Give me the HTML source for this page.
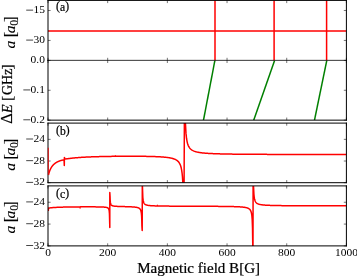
<!DOCTYPE html><html><head><meta charset="utf-8"><style>html,body{margin:0;padding:0;background:#fff;overflow:hidden;}svg{display:block;}text{font-family:"Liberation Serif",serif;fill:#000;stroke:#000;stroke-width:0px;}.L{stroke-width:0.22px;}.M{stroke-width:0.1px;}svg{-webkit-font-smoothing:antialiased;}</style></head><body>
<svg style="will-change:transform" width="357" height="277" viewBox="0 0 357 277">
<rect width="357" height="277" fill="#fff"/>
<clipPath id="ca"><rect x="48.0" y="0.5" width="298.40" height="59.90"/></clipPath>
<clipPath id="ce"><rect x="48.0" y="60.4" width="298.40" height="59.75"/></clipPath>
<clipPath id="cb"><rect x="48.0" y="123.1" width="298.40" height="59.60"/></clipPath>
<clipPath id="cc"><rect x="48.0" y="185.9" width="298.40" height="60.00"/></clipPath>
<g clip-path="url(#ca)" stroke="#ff0000" stroke-width="1.5" fill="none">
<line x1="48.0" y1="31.1" x2="346.4" y2="31.1"/>
<line x1="215.0" y1="-0.5" x2="215.0" y2="61.4"/>
<line x1="274.1" y1="-0.5" x2="274.1" y2="61.4"/>
<line x1="326.6" y1="-0.5" x2="326.6" y2="61.4"/>
</g>
<g clip-path="url(#ce)" stroke="#008000" stroke-width="1.5" fill="none">
<line x1="214.9" y1="60.4" x2="203.5" y2="120.15"/>
<line x1="274.6" y1="60.4" x2="253.7" y2="120.15"/>
<line x1="326.8" y1="60.4" x2="314.5" y2="120.15"/>
</g>
<g clip-path="url(#cb)" stroke="#ff0000" stroke-width="1.5" fill="none" stroke-linejoin="round">
<path d="M48.4,175 L48.50,174.74 L48.63,174.23 L48.76,173.73 L48.89,173.27 L49.02,172.82 L49.16,172.40 L49.29,171.99 L49.42,171.61 L49.55,171.24 L49.68,170.88 L49.81,170.54 L49.94,170.22 L50.07,169.91 L50.21,169.61 L50.34,169.32 L50.47,169.04 L50.60,168.78 L50.73,168.52 L50.86,168.27 L50.99,168.03 L51.12,167.80 L51.25,167.58 L51.39,167.36 L51.52,167.16 L51.65,166.95 L51.78,166.76 L51.91,166.57 L52.04,166.39 L52.17,166.21 L52.30,166.04 L52.44,165.87 L52.57,165.71 L52.70,165.55 L52.83,165.40 L52.96,165.25 L53.09,165.11 L53.22,164.97 L53.35,164.83 L53.49,164.70 L53.62,164.57 L53.75,164.44 L53.88,164.32 L54.01,164.20 L54.14,164.08 L54.27,163.97 L54.40,163.86 L54.53,163.75 L54.67,163.64 L54.80,163.54 L54.93,163.44 L55.06,163.34 L55.19,163.25 L55.32,163.15 L55.45,163.06 L55.58,162.97 L55.72,162.88 L55.85,162.80 L55.98,162.71 L56.11,162.63 L56.24,162.55 L56.37,162.47 L56.50,162.39 L56.63,162.32 L56.76,162.24 L56.90,162.17 L57.03,162.10 L57.16,162.03 L57.29,161.96 L57.42,161.89 L57.55,161.83 L57.68,161.76 L57.81,161.70 L57.95,161.64 L58.08,161.58 L58.21,161.52 L58.34,161.46 L58.47,161.40 L58.60,161.35 L58.73,161.29 L58.86,161.24 L58.99,161.19 L59.13,161.13 L59.26,161.08 L59.39,161.03 L59.52,160.98 L59.65,160.93 L59.78,160.89 L59.91,160.84 L60.04,160.80 L60.18,160.75 L60.31,160.71 L60.44,160.67 L60.57,160.62 L60.70,160.58 L60.83,160.54 L60.96,160.50 L61.09,160.47 L61.23,160.43 L61.36,160.39 L61.49,160.36 L61.62,160.32 L61.75,160.29 L61.88,160.26 L62.01,160.23 L62.14,160.20 L62.27,160.18 L62.41,160.15 L62.54,160.13 L62.67,160.11 L62.80,160.09 L62.93,160.08 L63.06,160.07 L63.19,160.07 L63.32,160.07 L63.46,160.09 L63.59,160.13 L63.72,160.20 L63.85,160.31 L63.98,160.53 L64.11,161.04 L64.3,165.5 L64.4,157.6 L64.59,157.93 L64.99,158.78 L65.39,158.91 L65.79,158.93 L66.19,158.90 L66.59,158.86 L66.99,158.82 L67.39,158.76 L67.78,158.71 L68.18,158.66 L68.58,158.60 L68.98,158.55 L69.38,158.50 L69.78,158.44 L70.18,158.39 L70.58,158.34 L70.98,158.29 L71.38,158.25 L71.78,158.20 L72.18,158.15 L72.58,158.11 L72.98,158.07 L73.38,158.03 L73.78,157.98 L74.18,157.94 L74.58,157.91 L74.98,157.87 L75.38,157.83 L75.78,157.79 L76.18,157.76 L76.57,157.73 L76.97,157.69 L77.37,157.66 L77.77,157.63 L78.17,157.60 L78.57,157.56 L78.97,157.54 L79.37,157.51 L79.77,157.48 L80.17,157.45 L80.57,157.42 L80.97,157.40 L81.37,157.37 L81.77,157.34 L82.17,157.32 L82.57,157.30 L82.97,157.27 L83.37,157.25 L83.77,157.23 L84.17,157.20 L84.57,157.18 L84.96,157.16 L85.36,157.14 L85.76,157.12 L86.16,157.10 L86.56,157.08 L86.96,157.06 L87.36,157.04 L87.76,157.02 L88.16,157.00 L88.56,156.99 L88.96,156.97 L89.36,156.95 L89.76,156.93 L90.16,156.92 L90.56,156.90 L90.96,156.89 L91.36,156.87 L91.76,156.86 L92.16,156.84 L92.56,156.83 L92.96,156.81 L93.36,156.80 L93.75,156.78 L94.15,156.77 L94.55,156.76 L94.95,156.74 L95.35,156.73 L95.75,156.72 L96.15,156.71 L96.55,156.69 L96.95,156.68 L97.35,156.67 L97.75,156.66 L98.15,156.65 L98.55,156.64 L98.95,156.63 L99.35,156.62 L99.75,156.61 L100.15,156.60 L100.55,156.59 L100.95,156.58 L101.35,156.57 L101.75,156.56 L102.14,156.55 L102.54,156.54 L102.94,156.53 L103.34,156.52 L103.74,156.51 L104.14,156.50 L104.54,156.50 L104.94,156.49 L105.34,156.48 L105.74,156.47 L106.14,156.47 L106.54,156.46 L106.94,156.45 L107.34,156.44 L107.74,156.44 L108.14,156.43 L108.54,156.42 L108.94,156.42 L109.34,156.41 L109.74,156.40 L110.14,156.40 L110.54,156.39 L110.93,156.39 L111.33,156.38 L111.73,156.37 L112.13,156.37 L112.53,156.36 L112.93,156.36 L113.33,156.35 L113.73,156.35 L114.13,156.34 L114.53,156.34 L114.93,156.33 L115.33,156.33 L115.73,156.33 L116.13,156.32 L116.53,156.32 L116.93,156.31 L117.33,156.31 L117.73,156.31 L118.13,156.30 L118.53,156.30 L118.93,156.30 L119.32,156.29 L119.72,156.29 L120.12,156.29 L120.52,156.28 L120.92,156.28 L121.32,156.28 L121.72,156.28 L122.12,156.27 L122.52,156.27 L122.92,156.27 L123.32,156.27 L123.72,156.26 L124.12,156.26 L124.52,156.26 L124.92,156.26 L125.32,156.26 L125.72,156.26 L126.12,156.25 L126.52,156.25 L126.92,156.25 L127.32,156.25 L127.71,156.25 L128.11,156.25 L128.51,156.25 L128.91,156.25 L129.31,156.25 L129.71,156.25 L130.11,156.25 L130.51,156.25 L130.91,156.25 L131.31,156.25 L131.71,156.25 L132.11,156.25 L132.51,156.25 L132.91,156.25 L133.31,156.25 L133.71,156.25 L134.11,156.26 L134.51,156.26 L134.91,156.26 L135.31,156.26 L135.71,156.26 L136.11,156.26 L136.50,156.27 L136.90,156.27 L137.30,156.27 L137.70,156.27 L138.10,156.28 L138.50,156.28 L138.90,156.28 L139.30,156.29 L139.70,156.29 L140.10,156.29 L140.50,156.30 L140.90,156.30 L141.30,156.30 L141.70,156.31 L142.10,156.31 L142.50,156.32 L142.90,156.32 L143.30,156.33 L143.70,156.33 L144.10,156.34 L144.50,156.34 L144.89,156.35 L145.29,156.36 L145.69,156.36 L146.09,156.37 L146.49,156.38 L146.89,156.38 L147.29,156.39 L147.69,156.40 L148.09,156.41 L148.49,156.42 L148.89,156.42 L149.29,156.43 L149.69,156.44 L150.09,156.45 L150.49,156.46 L150.89,156.47 L151.29,156.48 L151.69,156.49 L152.09,156.50 L152.49,156.52 L152.89,156.53 L153.29,156.54 L153.68,156.55 L154.08,156.57 L154.48,156.58 L154.88,156.60 L155.28,156.61 L155.68,156.63 L156.08,156.64 L156.48,156.66 L156.88,156.68 L157.28,156.69 L157.68,156.71 L158.08,156.73 L158.48,156.75 L158.88,156.77 L159.28,156.79 L159.68,156.82 L160.08,156.84 L160.48,156.86 L160.88,156.89 L161.28,156.91 L161.68,156.94 L162.07,156.97 L162.47,157.00 L162.87,157.03 L163.27,157.06 L163.67,157.09 L164.07,157.13 L164.47,157.16 L164.87,157.20 L165.27,157.24 L165.67,157.28 L166.07,157.32 L166.47,157.37 L166.87,157.42 L167.27,157.47 L167.67,157.52 L168.07,157.57 L168.47,157.63 L168.87,157.69 L169.27,157.76 L169.67,157.82 L170.07,157.90 L170.47,157.97 L170.86,158.05 L171.26,158.14 L171.66,158.23 L172.06,158.33 L172.46,158.44 L172.86,158.55 L173.26,158.67 L173.66,158.80 L174.06,158.94 L174.46,159.09 L174.86,159.26 L175.26,159.44 L175.66,159.64 L176.06,159.85 L176.46,160.09 L176.86,160.36 L177.26,160.66 L177.66,160.99 L178.06,161.37 L178.46,161.80 L178.86,162.29 L179.25,162.87 L179.65,163.54 L180.05,164.34 L180.45,165.32 L180.85,166.52 L181.25,168.05 L181.65,170.05 L182.05,172.79 L182.45,176.77 L182.85,183.05 L183.25,185.70 L183.65,185.70 L184.05,185.70 L184.08,185.7 L184.38,120.1 L184.38,120.10 L184.92,120.10 L185.46,123.87 L186.00,133.40 L186.54,138.47 L187.09,141.62 L187.63,143.76 L188.17,145.32 L188.71,146.49 L189.25,147.42 L189.80,148.16 L190.34,148.77 L190.88,149.28 L191.42,149.71 L191.96,150.09 L192.51,150.41 L193.05,150.69 L193.59,150.94 L194.13,151.17 L194.67,151.37 L195.22,151.55 L195.76,151.71 L196.30,151.86 L196.84,151.99 L197.38,152.11 L197.92,152.23 L198.47,152.33 L199.01,152.43 L199.55,152.52 L200.09,152.60 L200.63,152.68 L201.18,152.75 L201.72,152.82 L202.26,152.89 L202.80,152.95 L203.34,153.00 L203.89,153.06 L204.43,153.11 L204.97,153.15 L205.51,153.20 L206.05,153.24 L206.59,153.28 L207.14,153.32 L207.68,153.36 L208.22,153.39 L208.76,153.43 L209.30,153.46 L209.85,153.49 L210.39,153.52 L210.93,153.55 L211.47,153.57 L212.01,153.60 L212.56,153.62 L213.10,153.65 L213.64,153.67 L214.18,153.69 L214.72,153.71 L215.26,153.73 L215.81,153.75 L216.35,153.77 L216.89,153.79 L217.43,153.81 L217.97,153.82 L218.52,153.84 L219.06,153.86 L219.60,153.87 L220.14,153.89 L220.68,153.90 L221.23,153.91 L221.77,153.93 L222.31,153.94 L222.85,153.95 L223.39,153.96 L223.93,153.98 L224.48,153.99 L225.02,154.00 L225.56,154.01 L226.10,154.02 L226.64,154.03 L227.19,154.04 L227.73,154.05 L228.27,154.06 L228.81,154.07 L229.35,154.08 L229.90,154.09 L230.44,154.09 L230.98,154.10 L231.52,154.11 L232.06,154.12 L232.60,154.13 L233.15,154.13 L233.69,154.14 L234.23,154.15 L234.77,154.15 L235.31,154.16 L235.86,154.17 L236.40,154.17 L236.94,154.18 L237.48,154.18 L238.02,154.19 L238.57,154.20 L239.11,154.20 L239.65,154.21 L240.19,154.21 L240.73,154.22 L241.27,154.22 L241.82,154.23 L242.36,154.23 L242.90,154.24 L243.44,154.24 L243.98,154.25 L244.53,154.25 L245.07,154.26 L245.61,154.26 L246.15,154.26 L246.69,154.27 L247.24,154.27 L247.78,154.28 L248.32,154.28 L248.86,154.28 L249.40,154.29 L249.95,154.29 L250.49,154.29 L251.03,154.30 L251.57,154.30 L252.11,154.31 L252.65,154.31 L253.20,154.31 L253.74,154.31 L254.28,154.32 L254.82,154.32 L255.36,154.32 L255.91,154.33 L256.45,154.33 L256.99,154.33 L257.53,154.33 L258.07,154.34 L258.62,154.34 L259.16,154.34 L259.70,154.35 L260.24,154.35 L260.78,154.35 L261.32,154.35 L261.87,154.36 L262.41,154.36 L262.95,154.36 L263.49,154.36 L264.03,154.36 L264.58,154.37 L265.12,154.37 L265.66,154.37 L266.20,154.37 L266.74,154.37 L267.29,154.38 L267.83,154.38 L268.37,154.38 L268.91,154.38 L269.45,154.38 L269.99,154.39 L270.54,154.39 L271.08,154.39 L271.62,154.39 L272.16,154.39 L272.70,154.39 L273.25,154.40 L273.79,154.40 L274.33,154.40 L274.87,154.40 L275.41,154.40 L275.96,154.40 L276.50,154.41 L277.04,154.41 L277.58,154.41 L278.12,154.41 L278.66,154.41 L279.21,154.41 L279.75,154.41 L280.29,154.42 L280.83,154.42 L281.37,154.42 L281.92,154.42 L282.46,154.42 L283.00,154.42 L283.54,154.42 L284.08,154.42 L284.63,154.42 L285.17,154.43 L285.71,154.43 L286.25,154.43 L286.79,154.43 L287.33,154.43 L287.88,154.43 L288.42,154.43 L288.96,154.43 L289.50,154.43 L290.04,154.44 L290.59,154.44 L291.13,154.44 L291.67,154.44 L292.21,154.44 L292.75,154.44 L293.30,154.44 L293.84,154.44 L294.38,154.44 L294.92,154.44 L295.46,154.44 L296.01,154.45 L296.55,154.45 L297.09,154.45 L297.63,154.45 L298.17,154.45 L298.71,154.45 L299.26,154.45 L299.80,154.45 L300.34,154.45 L300.88,154.45 L301.42,154.45 L301.97,154.45 L302.51,154.45 L303.05,154.46 L303.59,154.46 L304.13,154.46 L304.68,154.46 L305.22,154.46 L305.76,154.46 L306.30,154.46 L306.84,154.46 L307.38,154.46 L307.93,154.46 L308.47,154.46 L309.01,154.46 L309.55,154.46 L310.09,154.46 L310.64,154.46 L311.18,154.46 L311.72,154.47 L312.26,154.47 L312.80,154.47 L313.35,154.47 L313.89,154.47 L314.43,154.47 L314.97,154.47 L315.51,154.47 L316.05,154.47 L316.60,154.47 L317.14,154.47 L317.68,154.47 L318.22,154.47 L318.76,154.47 L319.31,154.47 L319.85,154.47 L320.39,154.47 L320.93,154.47 L321.47,154.47 L322.02,154.47 L322.56,154.47 L323.10,154.47 L323.64,154.48 L324.18,154.48 L324.72,154.48 L325.27,154.48 L325.81,154.48 L326.35,154.48 L326.89,154.48 L327.43,154.48 L327.98,154.48 L328.52,154.48 L329.06,154.48 L329.60,154.48 L330.14,154.48 L330.69,154.48 L331.23,154.48 L331.77,154.48 L332.31,154.48 L332.85,154.48 L333.39,154.48 L333.94,154.48 L334.48,154.48 L335.02,154.48 L335.56,154.48 L336.10,154.48 L336.65,154.48 L337.19,154.48 L337.73,154.48 L338.27,154.48 L338.81,154.48 L339.36,154.48 L339.90,154.48 L340.44,154.49 L340.98,154.49 L341.52,154.49 L342.06,154.49 L342.61,154.49 L343.15,154.49 L343.69,154.49 L344.23,154.49 L344.77,154.49 L345.32,154.49 L345.86,154.49 L346.40,154.49 "/>
<line x1="115.4" y1="155.3" x2="115.4" y2="156.8" stroke-width="1"/>
</g>
<g clip-path="url(#cc)" stroke="#ff0000" stroke-width="1.5" fill="none" stroke-linejoin="round">
<path d="M48.3,211 L48.50,208.11 L48.74,208.07 L48.99,208.03 L49.23,208.00 L49.48,207.96 L49.72,207.93 L49.97,207.90 L50.21,207.87 L50.46,207.84 L50.70,207.81 L50.95,207.78 L51.19,207.76 L51.44,207.73 L51.68,207.71 L51.93,207.69 L52.17,207.66 L52.42,207.64 L52.66,207.62 L52.91,207.60 L53.15,207.58 L53.39,207.56 L53.64,207.54 L53.88,207.53 L54.13,207.51 L54.37,207.49 L54.62,207.48 L54.86,207.46 L55.11,207.45 L55.35,207.43 L55.60,207.42 L55.84,207.40 L56.09,207.39 L56.33,207.38 L56.58,207.37 L56.82,207.35 L57.07,207.34 L57.31,207.33 L57.56,207.32 L57.80,207.31 L58.05,207.30 L58.29,207.29 L58.53,207.28 L58.78,207.27 L59.02,207.26 L59.27,207.25 L59.51,207.24 L59.76,207.23 L60.00,207.22 L60.25,207.21 L60.49,207.20 L60.74,207.19 L60.98,207.19 L61.23,207.18 L61.47,207.17 L61.72,207.16 L61.96,207.15 L62.21,207.15 L62.45,207.14 L62.70,207.13 L62.94,207.13 L63.18,207.12 L63.43,207.11 L63.67,207.11 L63.92,207.10 L64.16,207.10 L64.41,207.09 L64.65,207.08 L64.90,207.08 L65.14,207.07 L65.39,207.07 L65.63,207.06 L65.88,207.06 L66.12,207.05 L66.37,207.05 L66.61,207.04 L66.86,207.04 L67.10,207.03 L67.35,207.03 L67.59,207.02 L67.83,207.02 L68.08,207.01 L68.32,207.01 L68.57,207.00 L68.81,207.00 L69.06,207.00 L69.30,206.99 L69.55,206.99 L69.79,206.98 L70.04,206.98 L70.28,206.98 L70.53,206.97 L70.77,206.97 L71.02,206.97 L71.26,206.96 L71.51,206.96 L71.75,206.96 L72.00,206.95 L72.24,206.95 L72.49,206.95 L72.73,206.94 L72.97,206.94 L73.22,206.94 L73.46,206.93 L73.71,206.93 L73.95,206.93 L74.20,206.93 L74.44,206.92 L74.69,206.92 L74.93,206.92 L75.18,206.92 L75.42,206.91 L75.67,206.91 L75.91,206.91 L76.16,206.91 L76.40,206.90 L76.65,206.90 L76.89,206.90 L77.14,206.90 L77.38,206.90 L77.62,206.89 L77.87,206.89 L78.11,206.89 L78.36,206.89 L78.60,206.89 L78.85,206.88 L79.09,206.88 L79.34,206.88 L79.58,206.88 L79.83,206.88 L80.07,206.88 L80.32,206.87 L80.56,206.87 L80.81,206.87 L81.05,206.87 L81.30,206.87 L81.54,206.87 L81.79,206.87 L82.03,206.86 L82.28,206.86 L82.52,206.86 L82.76,206.86 L83.01,206.86 L83.25,206.86 L83.50,206.86 L83.74,206.86 L83.99,206.86 L84.23,206.86 L84.48,206.85 L84.72,206.85 L84.97,206.85 L85.21,206.85 L85.46,206.85 L85.70,206.85 L85.95,206.85 L86.19,206.85 L86.44,206.85 L86.68,206.85 L86.93,206.85 L87.17,206.85 L87.41,206.85 L87.66,206.85 L87.90,206.85 L88.15,206.85 L88.39,206.85 L88.64,206.85 L88.88,206.85 L89.13,206.85 L89.37,206.85 L89.62,206.85 L89.86,206.85 L90.11,206.85 L90.35,206.85 L90.60,206.85 L90.84,206.85 L91.09,206.85 L91.33,206.85 L91.58,206.85 L91.82,206.85 L92.06,206.85 L92.31,206.85 L92.55,206.86 L92.80,206.86 L93.04,206.86 L93.29,206.86 L93.53,206.86 L93.78,206.86 L94.02,206.86 L94.27,206.86 L94.51,206.87 L94.76,206.87 L95.00,206.87 L95.25,206.87 L95.49,206.87 L95.74,206.88 L95.98,206.88 L96.23,206.88 L96.47,206.88 L96.72,206.89 L96.96,206.89 L97.20,206.89 L97.45,206.90 L97.69,206.90 L97.94,206.90 L98.18,206.91 L98.43,206.91 L98.67,206.92 L98.92,206.92 L99.16,206.92 L99.41,206.93 L99.65,206.93 L99.90,206.94 L100.14,206.95 L100.39,206.95 L100.63,206.96 L100.88,206.97 L101.12,206.97 L101.37,206.98 L101.61,206.99 L101.85,207.00 L102.10,207.01 L102.34,207.02 L102.59,207.03 L102.83,207.04 L103.08,207.06 L103.32,207.07 L103.57,207.08 L103.81,207.10 L104.06,207.12 L104.30,207.14 L104.55,207.16 L104.79,207.18 L105.04,207.21 L105.28,207.24 L105.53,207.27 L105.77,207.30 L106.02,207.34 L106.26,207.39 L106.50,207.44 L106.75,207.50 L106.99,207.57 L107.24,207.66 L107.48,207.76 L107.73,207.89 L107.97,208.05 L108.22,208.27 L108.46,208.56 L108.71,208.98 L108.95,209.64 L109.20,210.84 L109.44,213.68 L109.8,227.5 L109.8,192.6 L110.04,196.19 L110.17,199.85 L110.29,201.62 L110.42,202.66 L110.55,203.35 L110.68,203.83 L110.81,204.20 L110.93,204.48 L111.06,204.70 L111.19,204.89 L111.32,205.04 L111.45,205.17 L111.57,205.28 L111.70,205.37 L111.83,205.45 L111.96,205.53 L112.09,205.59 L112.21,205.65 L112.34,205.70 L112.47,205.75 L112.60,205.79 L112.73,205.83 L112.85,205.87 L112.98,205.90 L113.11,205.93 L113.24,205.96 L113.37,205.99 L113.49,206.01 L113.62,206.04 L113.75,206.06 L113.88,206.08 L114.01,206.10 L114.13,206.12 L114.26,206.13 L114.39,206.15 L114.52,206.17 L114.65,206.18 L114.77,206.19 L114.90,206.21 L115.03,206.22 L115.16,206.23 L115.29,206.24 L115.41,206.25 L115.54,206.26 L115.67,206.27 L115.80,206.28 L115.93,206.29 L116.05,206.30 L116.18,206.31 L116.31,206.32 L116.44,206.33 L116.56,206.34 L116.69,206.34 L116.82,206.35 L116.95,206.36 L117.08,206.36 L117.20,206.37 L117.33,206.38 L117.46,206.38 L117.59,206.39 L117.72,206.40 L117.84,206.40 L117.97,206.41 L118.10,206.41 L118.23,206.42 L118.36,206.42 L118.48,206.43 L118.61,206.43 L118.74,206.44 L118.87,206.44 L119.00,206.45 L119.12,206.45 L119.25,206.46 L119.38,206.46 L119.51,206.47 L119.64,206.47 L119.76,206.48 L119.89,206.48 L120.02,206.49 L120.15,206.49 L120.28,206.49 L120.40,206.50 L120.53,206.50 L120.66,206.51 L120.79,206.51 L120.92,206.51 L121.04,206.52 L121.17,206.52 L121.30,206.52 L121.43,206.53 L121.56,206.53 L121.68,206.54 L121.81,206.54 L121.94,206.54 L122.07,206.55 L122.20,206.55 L122.32,206.55 L122.45,206.56 L122.58,206.56 L122.71,206.56 L122.84,206.57 L122.96,206.57 L123.09,206.57 L123.22,206.58 L123.35,206.58 L123.47,206.58 L123.60,206.59 L123.73,206.59 L123.86,206.60 L123.99,206.60 L124.11,206.60 L124.24,206.61 L124.37,206.61 L124.50,206.61 L124.63,206.62 L124.75,206.62 L124.88,206.62 L125.01,206.63 L125.14,206.63 L125.27,206.63 L125.39,206.64 L125.52,206.64 L125.65,206.64 L125.78,206.65 L125.91,206.65 L126.03,206.66 L126.16,206.66 L126.29,206.66 L126.42,206.67 L126.55,206.67 L126.67,206.67 L126.80,206.68 L126.93,206.68 L127.06,206.69 L127.19,206.69 L127.31,206.69 L127.44,206.70 L127.57,206.70 L127.70,206.71 L127.83,206.71 L127.95,206.71 L128.08,206.72 L128.21,206.72 L128.34,206.73 L128.47,206.73 L128.59,206.74 L128.72,206.74 L128.85,206.75 L128.98,206.75 L129.11,206.76 L129.23,206.76 L129.36,206.77 L129.49,206.77 L129.62,206.78 L129.75,206.78 L129.87,206.79 L130.00,206.79 L130.13,206.80 L130.26,206.80 L130.38,206.81 L130.51,206.81 L130.64,206.82 L130.77,206.83 L130.90,206.83 L131.02,206.84 L131.15,206.84 L131.28,206.85 L131.41,206.86 L131.54,206.86 L131.66,206.87 L131.79,206.88 L131.92,206.89 L132.05,206.89 L132.18,206.90 L132.30,206.91 L132.43,206.92 L132.56,206.93 L132.69,206.93 L132.82,206.94 L132.94,206.95 L133.07,206.96 L133.20,206.97 L133.33,206.98 L133.46,206.99 L133.58,207.00 L133.71,207.01 L133.84,207.02 L133.97,207.03 L134.10,207.04 L134.22,207.05 L134.35,207.07 L134.48,207.08 L134.61,207.09 L134.74,207.10 L134.86,207.12 L134.99,207.13 L135.12,207.15 L135.25,207.16 L135.38,207.18 L135.50,207.19 L135.63,207.21 L135.76,207.23 L135.89,207.25 L136.02,207.27 L136.14,207.29 L136.27,207.31 L136.40,207.33 L136.53,207.35 L136.66,207.38 L136.78,207.40 L136.91,207.43 L137.04,207.45 L137.17,207.48 L137.29,207.51 L137.42,207.54 L137.55,207.58 L137.68,207.61 L137.81,207.65 L137.93,207.69 L138.06,207.73 L138.19,207.78 L138.32,207.82 L138.45,207.88 L138.57,207.93 L138.70,207.99 L138.83,208.05 L138.96,208.12 L139.09,208.19 L139.21,208.27 L139.34,208.36 L139.47,208.45 L139.60,208.56 L139.73,208.67 L139.85,208.80 L139.98,208.94 L140.11,209.10 L140.24,209.28 L140.37,209.49 L140.49,209.73 L140.62,210.00 L140.75,210.32 L140.88,210.71 L141.01,211.18 L141.13,211.76 L141.26,212.50 L141.39,213.47 L141.52,214.81 L141.65,216.76 L141.77,219.89 L141.90,225.71 L142.2,230.4 L142.3,182.9 L142.54,189.27 L142.85,197.51 L143.17,200.38 L143.49,201.85 L143.80,202.73 L144.12,203.33 L144.43,203.75 L144.75,204.07 L145.07,204.32 L145.38,204.52 L145.70,204.69 L146.01,204.82 L146.33,204.94 L146.65,205.04 L146.96,205.13 L147.28,205.20 L147.59,205.27 L147.91,205.33 L148.23,205.38 L148.54,205.43 L148.86,205.47 L149.17,205.51 L149.49,205.55 L149.81,205.58 L150.12,205.61 L150.44,205.64 L150.75,205.66 L151.07,205.69 L151.39,205.71 L151.70,205.73 L152.02,205.75 L152.33,205.77 L152.65,205.79 L152.97,205.80 L153.28,205.82 L153.60,205.83 L153.91,205.85 L154.23,205.86 L154.55,205.87 L154.86,205.88 L155.18,205.89 L155.49,205.91 L155.81,205.92 L156.13,205.92 L156.44,205.93 L156.76,205.94 L157.07,205.95 L157.39,205.96 L157.71,205.97 L158.02,205.97 L158.34,205.98 L158.65,205.99 L158.97,206.00 L159.29,206.00 L159.60,206.01 L159.92,206.01 L160.23,206.02 L160.55,206.02 L160.87,206.03 L161.18,206.04 L161.50,206.04 L161.81,206.04 L162.13,206.05 L162.45,206.05 L162.76,206.06 L163.08,206.06 L163.39,206.07 L163.71,206.07 L164.03,206.07 L164.34,206.08 L164.66,206.08 L164.97,206.09 L165.29,206.09 L165.61,206.09 L165.92,206.10 L166.24,206.10 L166.55,206.10 L166.87,206.11 L167.19,206.11 L167.50,206.11 L167.82,206.11 L168.13,206.12 L168.45,206.12 L168.77,206.12 L169.08,206.12 L169.40,206.13 L169.71,206.13 L170.03,206.13 L170.35,206.13 L170.66,206.14 L170.98,206.14 L171.29,206.14 L171.61,206.14 L171.93,206.15 L172.24,206.15 L172.56,206.15 L172.87,206.15 L173.19,206.15 L173.51,206.16 L173.82,206.16 L174.14,206.16 L174.45,206.16 L174.77,206.16 L175.09,206.17 L175.40,206.17 L175.72,206.17 L176.03,206.17 L176.35,206.17 L176.67,206.17 L176.98,206.18 L177.30,206.18 L177.61,206.18 L177.93,206.18 L178.25,206.18 L178.56,206.18 L178.88,206.18 L179.19,206.19 L179.51,206.19 L179.83,206.19 L180.14,206.19 L180.46,206.19 L180.77,206.19 L181.09,206.20 L181.41,206.20 L181.72,206.20 L182.04,206.20 L182.35,206.20 L182.67,206.20 L182.99,206.20 L183.30,206.20 L183.62,206.21 L183.93,206.21 L184.25,206.21 L184.57,206.21 L184.88,206.21 L185.20,206.21 L185.51,206.21 L185.83,206.21 L186.15,206.22 L186.46,206.22 L186.78,206.22 L187.09,206.22 L187.41,206.22 L187.73,206.22 L188.04,206.22 L188.36,206.22 L188.67,206.23 L188.99,206.23 L189.31,206.23 L189.62,206.23 L189.94,206.23 L190.25,206.23 L190.57,206.23 L190.89,206.23 L191.20,206.24 L191.52,206.24 L191.83,206.24 L192.15,206.24 L192.47,206.24 L192.78,206.24 L193.10,206.24 L193.41,206.24 L193.73,206.24 L194.05,206.25 L194.36,206.25 L194.68,206.25 L194.99,206.25 L195.31,206.25 L195.63,206.25 L195.94,206.25 L196.26,206.25 L196.57,206.26 L196.89,206.26 L197.21,206.26 L197.52,206.26 L197.84,206.26 L198.15,206.26 L198.47,206.26 L198.79,206.26 L199.10,206.27 L199.42,206.27 L199.73,206.27 L200.05,206.27 L200.37,206.27 L200.68,206.27 L201.00,206.27 L201.31,206.27 L201.63,206.28 L201.95,206.28 L202.26,206.28 L202.58,206.28 L202.89,206.28 L203.21,206.28 L203.53,206.28 L203.84,206.29 L204.16,206.29 L204.47,206.29 L204.79,206.29 L205.11,206.29 L205.42,206.29 L205.74,206.29 L206.05,206.30 L206.37,206.30 L206.69,206.30 L207.00,206.30 L207.32,206.30 L207.63,206.30 L207.95,206.31 L208.27,206.31 L208.58,206.31 L208.90,206.31 L209.21,206.31 L209.53,206.31 L209.85,206.32 L210.16,206.32 L210.48,206.32 L210.79,206.32 L211.11,206.32 L211.43,206.33 L211.74,206.33 L212.06,206.33 L212.37,206.33 L212.69,206.33 L213.01,206.34 L213.32,206.34 L213.64,206.34 L213.95,206.34 L214.27,206.34 L214.59,206.35 L214.90,206.35 L215.22,206.35 L215.53,206.35 L215.85,206.35 L216.17,206.36 L216.48,206.36 L216.80,206.36 L217.11,206.36 L217.43,206.37 L217.75,206.37 L218.06,206.37 L218.38,206.38 L218.69,206.38 L219.01,206.38 L219.33,206.38 L219.64,206.39 L219.96,206.39 L220.27,206.39 L220.59,206.40 L220.91,206.40 L221.22,206.40 L221.54,206.41 L221.85,206.41 L222.17,206.41 L222.49,206.42 L222.80,206.42 L223.12,206.42 L223.43,206.43 L223.75,206.43 L224.07,206.43 L224.38,206.44 L224.70,206.44 L225.01,206.45 L225.33,206.45 L225.65,206.45 L225.96,206.46 L226.28,206.46 L226.59,206.47 L226.91,206.47 L227.23,206.48 L227.54,206.48 L227.86,206.49 L228.17,206.49 L228.49,206.50 L228.81,206.50 L229.12,206.51 L229.44,206.52 L229.75,206.52 L230.07,206.53 L230.39,206.53 L230.70,206.54 L231.02,206.55 L231.33,206.56 L231.65,206.56 L231.97,206.57 L232.28,206.58 L232.60,206.59 L232.91,206.59 L233.23,206.60 L233.55,206.61 L233.86,206.62 L234.18,206.63 L234.49,206.64 L234.81,206.65 L235.13,206.66 L235.44,206.67 L235.76,206.68 L236.07,206.69 L236.39,206.70 L236.71,206.72 L237.02,206.73 L237.34,206.74 L237.65,206.76 L237.97,206.77 L238.29,206.79 L238.60,206.80 L238.92,206.82 L239.23,206.84 L239.55,206.86 L239.87,206.87 L240.18,206.89 L240.50,206.92 L240.81,206.94 L241.13,206.96 L241.45,206.99 L241.76,207.01 L242.08,207.04 L242.39,207.07 L242.71,207.10 L243.03,207.13 L243.34,207.17 L243.66,207.21 L243.97,207.25 L244.29,207.29 L244.61,207.34 L244.92,207.39 L245.24,207.44 L245.55,207.50 L245.87,207.57 L246.19,207.64 L246.50,207.71 L246.82,207.80 L247.13,207.89 L247.45,208.00 L247.77,208.12 L248.08,208.25 L248.40,208.40 L248.71,208.58 L249.03,208.78 L249.35,209.01 L249.66,209.29 L249.98,209.63 L250.29,210.05 L250.61,210.58 L250.92,211.28 L251.24,212.22 L251.56,213.57 L251.87,215.68 L252.19,219.44 L252.50,228.00 L252.82,248.90 L253.0,248.9 L253.1,182.9 L253.28,182.90 L253.59,187.62 L253.90,193.98 L254.21,197.07 L254.52,198.90 L254.84,200.11 L255.15,200.97 L255.46,201.61 L255.77,202.11 L256.08,202.51 L256.39,202.83 L256.70,203.10 L257.02,203.32 L257.33,203.52 L257.64,203.69 L257.95,203.83 L258.26,203.96 L258.57,204.08 L258.88,204.18 L259.20,204.28 L259.51,204.36 L259.82,204.43 L260.13,204.50 L260.44,204.57 L260.75,204.63 L261.07,204.68 L261.38,204.73 L261.69,204.78 L262.00,204.82 L262.31,204.86 L262.62,204.90 L262.93,204.93 L263.25,204.96 L263.56,205.00 L263.87,205.02 L264.18,205.05 L264.49,205.08 L264.80,205.10 L265.11,205.13 L265.43,205.15 L265.74,205.17 L266.05,205.19 L266.36,205.21 L266.67,205.23 L266.98,205.24 L267.29,205.26 L267.61,205.28 L267.92,205.29 L268.23,205.31 L268.54,205.32 L268.85,205.33 L269.16,205.35 L269.47,205.36 L269.79,205.37 L270.10,205.38 L270.41,205.39 L270.72,205.40 L271.03,205.41 L271.34,205.42 L271.65,205.43 L271.97,205.44 L272.28,205.45 L272.59,205.46 L272.90,205.47 L273.21,205.48 L273.52,205.49 L273.83,205.49 L274.15,205.50 L274.46,205.51 L274.77,205.51 L275.08,205.52 L275.39,205.53 L275.70,205.53 L276.01,205.54 L276.33,205.55 L276.64,205.55 L276.95,205.56 L277.26,205.56 L277.57,205.57 L277.88,205.57 L278.19,205.58 L278.51,205.58 L278.82,205.59 L279.13,205.59 L279.44,205.60 L279.75,205.60 L280.06,205.61 L280.37,205.61 L280.69,205.62 L281.00,205.62 L281.31,205.62 L281.62,205.63 L281.93,205.63 L282.24,205.63 L282.55,205.64 L282.87,205.64 L283.18,205.65 L283.49,205.65 L283.80,205.65 L284.11,205.65 L284.42,205.66 L284.73,205.66 L285.05,205.66 L285.36,205.67 L285.67,205.67 L285.98,205.67 L286.29,205.68 L286.60,205.68 L286.91,205.68 L287.23,205.68 L287.54,205.69 L287.85,205.69 L288.16,205.69 L288.47,205.69 L288.78,205.70 L289.09,205.70 L289.41,205.70 L289.72,205.70 L290.03,205.70 L290.34,205.71 L290.65,205.71 L290.96,205.71 L291.27,205.71 L291.59,205.71 L291.90,205.72 L292.21,205.72 L292.52,205.72 L292.83,205.72 L293.14,205.72 L293.45,205.73 L293.77,205.73 L294.08,205.73 L294.39,205.73 L294.70,205.73 L295.01,205.73 L295.32,205.74 L295.64,205.74 L295.95,205.74 L296.26,205.74 L296.57,205.74 L296.88,205.74 L297.19,205.74 L297.50,205.75 L297.82,205.75 L298.13,205.75 L298.44,205.75 L298.75,205.75 L299.06,205.75 L299.37,205.75 L299.68,205.75 L300.00,205.76 L300.31,205.76 L300.62,205.76 L300.93,205.76 L301.24,205.76 L301.55,205.76 L301.86,205.76 L302.18,205.76 L302.49,205.76 L302.80,205.77 L303.11,205.77 L303.42,205.77 L303.73,205.77 L304.04,205.77 L304.36,205.77 L304.67,205.77 L304.98,205.77 L305.29,205.77 L305.60,205.77 L305.91,205.78 L306.22,205.78 L306.54,205.78 L306.85,205.78 L307.16,205.78 L307.47,205.78 L307.78,205.78 L308.09,205.78 L308.40,205.78 L308.72,205.78 L309.03,205.78 L309.34,205.78 L309.65,205.78 L309.96,205.79 L310.27,205.79 L310.58,205.79 L310.90,205.79 L311.21,205.79 L311.52,205.79 L311.83,205.79 L312.14,205.79 L312.45,205.79 L312.76,205.79 L313.08,205.79 L313.39,205.79 L313.70,205.79 L314.01,205.79 L314.32,205.79 L314.63,205.79 L314.94,205.80 L315.26,205.80 L315.57,205.80 L315.88,205.80 L316.19,205.80 L316.50,205.80 L316.81,205.80 L317.12,205.80 L317.44,205.80 L317.75,205.80 L318.06,205.80 L318.37,205.80 L318.68,205.80 L318.99,205.80 L319.30,205.80 L319.62,205.80 L319.93,205.80 L320.24,205.80 L320.55,205.80 L320.86,205.80 L321.17,205.80 L321.48,205.80 L321.80,205.81 L322.11,205.81 L322.42,205.81 L322.73,205.81 L323.04,205.81 L323.35,205.81 L323.66,205.81 L323.98,205.81 L324.29,205.81 L324.60,205.81 L324.91,205.81 L325.22,205.81 L325.53,205.81 L325.84,205.81 L326.16,205.81 L326.47,205.81 L326.78,205.81 L327.09,205.81 L327.40,205.81 L327.71,205.81 L328.02,205.81 L328.34,205.81 L328.65,205.81 L328.96,205.81 L329.27,205.81 L329.58,205.81 L329.89,205.81 L330.21,205.81 L330.52,205.81 L330.83,205.81 L331.14,205.81 L331.45,205.81 L331.76,205.81 L332.07,205.81 L332.39,205.81 L332.70,205.81 L333.01,205.81 L333.32,205.81 L333.63,205.81 L333.94,205.82 L334.25,205.82 L334.57,205.82 L334.88,205.82 L335.19,205.82 L335.50,205.82 L335.81,205.82 L336.12,205.82 L336.43,205.82 L336.75,205.82 L337.06,205.82 L337.37,205.82 L337.68,205.82 L337.99,205.82 L338.30,205.82 L338.61,205.82 L338.93,205.82 L339.24,205.82 L339.55,205.82 L339.86,205.82 L340.17,205.82 L340.48,205.82 L340.79,205.82 L341.11,205.82 L341.42,205.82 L341.73,205.82 L342.04,205.82 L342.35,205.82 L342.66,205.82 L342.97,205.82 L343.29,205.82 L343.60,205.82 L343.91,205.82 L344.22,205.82 L344.53,205.82 L344.84,205.82 L345.15,205.82 L345.47,205.82 L345.78,205.82 L346.09,205.82 L346.40,205.82 "/>
<line x1="80.1" y1="206.88" x2="80.1" y2="208.7" stroke-width="1"/>
<line x1="157.4" y1="205.96" x2="157.4" y2="204.7" stroke-width="1"/>
</g>
<line x1="48.0" y1="0.0" x2="48.0" y2="60.9" stroke="#000" stroke-width="1.0"/>
<line x1="346.4" y1="0.0" x2="346.4" y2="60.9" stroke="#000" stroke-width="1.0"/>
<line x1="47.5" y1="0.5" x2="346.9" y2="0.5" stroke="#000" stroke-width="0.9"/>
<line x1="47.5" y1="60.35" x2="346.9" y2="60.35" stroke="#000" stroke-width="0.8"/>
<line x1="48.00" y1="0.5" x2="48.00" y2="3.1" stroke="#000" stroke-width="0.55"/>
<line x1="48.00" y1="60.4" x2="48.00" y2="57.8" stroke="#000" stroke-width="0.55"/>
<line x1="107.68" y1="0.5" x2="107.68" y2="3.1" stroke="#000" stroke-width="0.55"/>
<line x1="107.68" y1="60.4" x2="107.68" y2="57.8" stroke="#000" stroke-width="0.55"/>
<line x1="167.36" y1="0.5" x2="167.36" y2="3.1" stroke="#000" stroke-width="0.55"/>
<line x1="167.36" y1="60.4" x2="167.36" y2="57.8" stroke="#000" stroke-width="0.55"/>
<line x1="227.04" y1="0.5" x2="227.04" y2="3.1" stroke="#000" stroke-width="0.55"/>
<line x1="227.04" y1="60.4" x2="227.04" y2="57.8" stroke="#000" stroke-width="0.55"/>
<line x1="286.72" y1="0.5" x2="286.72" y2="3.1" stroke="#000" stroke-width="0.55"/>
<line x1="286.72" y1="60.4" x2="286.72" y2="57.8" stroke="#000" stroke-width="0.55"/>
<line x1="346.40" y1="0.5" x2="346.40" y2="3.1" stroke="#000" stroke-width="0.55"/>
<line x1="346.40" y1="60.4" x2="346.40" y2="57.8" stroke="#000" stroke-width="0.55"/>
<line x1="48.0" y1="10.48" x2="50.6" y2="10.48" stroke="#000" stroke-width="0.55"/>
<line x1="346.4" y1="10.48" x2="343.79999999999995" y2="10.48" stroke="#000" stroke-width="0.55"/>
<line x1="48.0" y1="40.43" x2="50.6" y2="40.43" stroke="#000" stroke-width="0.55"/>
<line x1="346.4" y1="40.43" x2="343.79999999999995" y2="40.43" stroke="#000" stroke-width="0.55"/>
<line x1="48.0" y1="59.9" x2="48.0" y2="120.65" stroke="#000" stroke-width="1.0"/>
<line x1="346.4" y1="59.9" x2="346.4" y2="120.65" stroke="#000" stroke-width="1.0"/>
<line x1="47.5" y1="120.15" x2="346.9" y2="120.15" stroke="#000" stroke-width="1.0"/>
<line x1="48.00" y1="60.4" x2="48.00" y2="63.0" stroke="#000" stroke-width="0.55"/>
<line x1="48.00" y1="120.15" x2="48.00" y2="117.55000000000001" stroke="#000" stroke-width="0.55"/>
<line x1="107.68" y1="60.4" x2="107.68" y2="63.0" stroke="#000" stroke-width="0.55"/>
<line x1="107.68" y1="120.15" x2="107.68" y2="117.55000000000001" stroke="#000" stroke-width="0.55"/>
<line x1="167.36" y1="60.4" x2="167.36" y2="63.0" stroke="#000" stroke-width="0.55"/>
<line x1="167.36" y1="120.15" x2="167.36" y2="117.55000000000001" stroke="#000" stroke-width="0.55"/>
<line x1="227.04" y1="60.4" x2="227.04" y2="63.0" stroke="#000" stroke-width="0.55"/>
<line x1="227.04" y1="120.15" x2="227.04" y2="117.55000000000001" stroke="#000" stroke-width="0.55"/>
<line x1="286.72" y1="60.4" x2="286.72" y2="63.0" stroke="#000" stroke-width="0.55"/>
<line x1="286.72" y1="120.15" x2="286.72" y2="117.55000000000001" stroke="#000" stroke-width="0.55"/>
<line x1="346.40" y1="60.4" x2="346.40" y2="63.0" stroke="#000" stroke-width="0.55"/>
<line x1="346.40" y1="120.15" x2="346.40" y2="117.55000000000001" stroke="#000" stroke-width="0.55"/>
<line x1="48.0" y1="60.40" x2="50.6" y2="60.40" stroke="#000" stroke-width="0.55"/>
<line x1="346.4" y1="60.40" x2="343.79999999999995" y2="60.40" stroke="#000" stroke-width="0.55"/>
<line x1="48.0" y1="90.28" x2="50.6" y2="90.28" stroke="#000" stroke-width="0.55"/>
<line x1="346.4" y1="90.28" x2="343.79999999999995" y2="90.28" stroke="#000" stroke-width="0.55"/>
<line x1="48.0" y1="120.15" x2="50.6" y2="120.15" stroke="#000" stroke-width="0.55"/>
<line x1="346.4" y1="120.15" x2="343.79999999999995" y2="120.15" stroke="#000" stroke-width="0.55"/>
<line x1="48.0" y1="122.6" x2="48.0" y2="183.2" stroke="#000" stroke-width="1.0"/>
<line x1="346.4" y1="122.6" x2="346.4" y2="183.2" stroke="#000" stroke-width="1.0"/>
<line x1="47.5" y1="123.1" x2="346.9" y2="123.1" stroke="#000" stroke-width="1.0"/>
<line x1="47.5" y1="182.7" x2="346.9" y2="182.7" stroke="#000" stroke-width="1.0"/>
<line x1="48.00" y1="123.1" x2="48.00" y2="125.69999999999999" stroke="#000" stroke-width="0.55"/>
<line x1="48.00" y1="182.7" x2="48.00" y2="180.1" stroke="#000" stroke-width="0.55"/>
<line x1="107.68" y1="123.1" x2="107.68" y2="125.69999999999999" stroke="#000" stroke-width="0.55"/>
<line x1="107.68" y1="182.7" x2="107.68" y2="180.1" stroke="#000" stroke-width="0.55"/>
<line x1="167.36" y1="123.1" x2="167.36" y2="125.69999999999999" stroke="#000" stroke-width="0.55"/>
<line x1="167.36" y1="182.7" x2="167.36" y2="180.1" stroke="#000" stroke-width="0.55"/>
<line x1="227.04" y1="123.1" x2="227.04" y2="125.69999999999999" stroke="#000" stroke-width="0.55"/>
<line x1="227.04" y1="182.7" x2="227.04" y2="180.1" stroke="#000" stroke-width="0.55"/>
<line x1="286.72" y1="123.1" x2="286.72" y2="125.69999999999999" stroke="#000" stroke-width="0.55"/>
<line x1="286.72" y1="182.7" x2="286.72" y2="180.1" stroke="#000" stroke-width="0.55"/>
<line x1="346.40" y1="123.1" x2="346.40" y2="125.69999999999999" stroke="#000" stroke-width="0.55"/>
<line x1="346.40" y1="182.7" x2="346.40" y2="180.1" stroke="#000" stroke-width="0.55"/>
<line x1="48.0" y1="139.35" x2="50.6" y2="139.35" stroke="#000" stroke-width="0.55"/>
<line x1="346.4" y1="139.35" x2="343.79999999999995" y2="139.35" stroke="#000" stroke-width="0.55"/>
<line x1="48.0" y1="161.03" x2="50.6" y2="161.03" stroke="#000" stroke-width="0.55"/>
<line x1="346.4" y1="161.03" x2="343.79999999999995" y2="161.03" stroke="#000" stroke-width="0.55"/>
<line x1="48.0" y1="182.70" x2="50.6" y2="182.70" stroke="#000" stroke-width="0.55"/>
<line x1="346.4" y1="182.70" x2="343.79999999999995" y2="182.70" stroke="#000" stroke-width="0.55"/>
<line x1="48.0" y1="185.4" x2="48.0" y2="246.4" stroke="#000" stroke-width="1.0"/>
<line x1="346.4" y1="185.4" x2="346.4" y2="246.4" stroke="#000" stroke-width="1.0"/>
<line x1="47.5" y1="185.9" x2="346.9" y2="185.9" stroke="#000" stroke-width="1.0"/>
<line x1="47.5" y1="245.9" x2="346.9" y2="245.9" stroke="#000" stroke-width="1.0"/>
<line x1="48.00" y1="185.9" x2="48.00" y2="188.5" stroke="#000" stroke-width="0.55"/>
<line x1="48.00" y1="245.9" x2="48.00" y2="243.3" stroke="#000" stroke-width="0.55"/>
<line x1="107.68" y1="185.9" x2="107.68" y2="188.5" stroke="#000" stroke-width="0.55"/>
<line x1="107.68" y1="245.9" x2="107.68" y2="243.3" stroke="#000" stroke-width="0.55"/>
<line x1="167.36" y1="185.9" x2="167.36" y2="188.5" stroke="#000" stroke-width="0.55"/>
<line x1="167.36" y1="245.9" x2="167.36" y2="243.3" stroke="#000" stroke-width="0.55"/>
<line x1="227.04" y1="185.9" x2="227.04" y2="188.5" stroke="#000" stroke-width="0.55"/>
<line x1="227.04" y1="245.9" x2="227.04" y2="243.3" stroke="#000" stroke-width="0.55"/>
<line x1="286.72" y1="185.9" x2="286.72" y2="188.5" stroke="#000" stroke-width="0.55"/>
<line x1="286.72" y1="245.9" x2="286.72" y2="243.3" stroke="#000" stroke-width="0.55"/>
<line x1="346.40" y1="185.9" x2="346.40" y2="188.5" stroke="#000" stroke-width="0.55"/>
<line x1="346.40" y1="245.9" x2="346.40" y2="243.3" stroke="#000" stroke-width="0.55"/>
<line x1="48.0" y1="202.26" x2="50.6" y2="202.26" stroke="#000" stroke-width="0.55"/>
<line x1="346.4" y1="202.26" x2="343.79999999999995" y2="202.26" stroke="#000" stroke-width="0.55"/>
<line x1="48.0" y1="224.08" x2="50.6" y2="224.08" stroke="#000" stroke-width="0.55"/>
<line x1="346.4" y1="224.08" x2="343.79999999999995" y2="224.08" stroke="#000" stroke-width="0.55"/>
<line x1="48.0" y1="245.90" x2="50.6" y2="245.90" stroke="#000" stroke-width="0.55"/>
<line x1="346.4" y1="245.90" x2="343.79999999999995" y2="245.90" stroke="#000" stroke-width="0.55"/>
<line x1="48.35" y1="147.8" x2="48.4" y2="175" stroke="#e01010" stroke-width="1.2" opacity="0.85"/>
<text transform="translate(44.9,13.13) scale(1,0.985)" font-size="11.5" text-anchor="end">15</text>
<rect x="26.20" y="9.68" width="6.9" height="0.9" fill="#333"/>
<text transform="translate(44.9,43.08) scale(1,0.985)" font-size="11.5" text-anchor="end">30</text>
<rect x="26.20" y="39.63" width="6.9" height="0.9" fill="#333"/>
<text transform="translate(44.9,63.05) scale(1,0.985)" font-size="11.5" text-anchor="end">0.0</text>
<text transform="translate(44.9,92.93) scale(1,0.985)" font-size="11.5" text-anchor="end">0.1</text>
<rect x="23.32" y="89.48" width="6.9" height="0.9" fill="#333"/>
<text transform="translate(44.9,122.80) scale(1,0.985)" font-size="11.5" text-anchor="end">0.2</text>
<rect x="23.32" y="119.35" width="6.9" height="0.9" fill="#333"/>
<text transform="translate(44.9,142.00) scale(1,0.985)" font-size="11.5" text-anchor="end">24</text>
<rect x="26.20" y="138.55" width="6.9" height="0.9" fill="#333"/>
<text transform="translate(44.9,163.68) scale(1,0.985)" font-size="11.5" text-anchor="end">28</text>
<rect x="26.20" y="160.23" width="6.9" height="0.9" fill="#333"/>
<text transform="translate(44.9,185.35) scale(1,0.985)" font-size="11.5" text-anchor="end">32</text>
<rect x="26.20" y="181.90" width="6.9" height="0.9" fill="#333"/>
<text transform="translate(44.9,204.91) scale(1,0.985)" font-size="11.5" text-anchor="end">24</text>
<rect x="26.20" y="201.46" width="6.9" height="0.9" fill="#333"/>
<text transform="translate(44.9,226.73) scale(1,0.985)" font-size="11.5" text-anchor="end">28</text>
<rect x="26.20" y="223.28" width="6.9" height="0.9" fill="#333"/>
<text transform="translate(44.9,248.55) scale(1,0.985)" font-size="11.5" text-anchor="end">32</text>
<rect x="26.20" y="245.10" width="6.9" height="0.9" fill="#333"/>
<text transform="translate(48.00,256.2) scale(1,0.985)" font-size="11.5" text-anchor="middle">0</text>
<text transform="translate(107.68,256.2) scale(1,0.985)" font-size="11.5" text-anchor="middle">200</text>
<text transform="translate(167.36,256.2) scale(1,0.985)" font-size="11.5" text-anchor="middle">400</text>
<text transform="translate(227.04,256.2) scale(1,0.985)" font-size="11.5" text-anchor="middle">600</text>
<text transform="translate(286.72,256.2) scale(1,0.985)" font-size="11.5" text-anchor="middle">800</text>
<text transform="translate(346.40,256.2) scale(1,0.985)" font-size="11.5" text-anchor="middle">1000</text>
<text transform="translate(56.1,10.9)" font-size="11.6" class="L"><tspan dy="-0.7">(</tspan><tspan dy="0.7">a</tspan><tspan dy="-0.7">)</tspan></text>
<text transform="translate(56.1,134.8)" font-size="11.6" class="L"><tspan dy="-0.7">(</tspan><tspan dy="0.7">b</tspan><tspan dy="-0.7">)</tspan></text>
<text transform="translate(56.1,197.6)" font-size="11.6" class="L"><tspan dy="-0.7">(</tspan><tspan dy="0.7">c</tspan><tspan dy="-0.7">)</tspan></text>
<text class="L" x="137.2" y="273.3" font-size="15.05">Magnetic field B[G]</text>
<text class="M" transform="translate(15.1,48.4) rotate(-90)" font-size="15"><tspan font-style="italic" font-size="15.5">a</tspan><tspan dx="-0.5"> </tspan><tspan font-size="17.5" dy="0.8">[</tspan><tspan font-style="italic" font-size="15.5" dx="-1.6" dy="-0.8">a</tspan><tspan font-size="11.8" dx="-0.2" dy="2.4">0</tspan><tspan font-size="17.5" dx="-2.2" dy="-1.6">]</tspan></text>
<text class="M" transform="translate(15.1,170.8) rotate(-90)" font-size="15"><tspan font-style="italic" font-size="15.5">a</tspan><tspan dx="-0.5"> </tspan><tspan font-size="17.5" dy="0.8">[</tspan><tspan font-style="italic" font-size="15.5" dx="-1.6" dy="-0.8">a</tspan><tspan font-size="11.8" dx="-0.2" dy="2.4">0</tspan><tspan font-size="17.5" dx="-2.2" dy="-1.6">]</tspan></text>
<text class="M" transform="translate(15.1,233.6) rotate(-90)" font-size="15"><tspan font-style="italic" font-size="15.5">a</tspan><tspan dx="-0.5"> </tspan><tspan font-size="17.5" dy="0.8">[</tspan><tspan font-style="italic" font-size="15.5" dx="-1.6" dy="-0.8">a</tspan><tspan font-size="11.8" dx="-0.2" dy="2.4">0</tspan><tspan font-size="17.5" dx="-2.2" dy="-1.6">]</tspan></text>
<text class="L" transform="translate(11.6,94) rotate(-90)" font-size="14" text-anchor="middle"><tspan font-size="16.5">Δ</tspan><tspan font-style="italic">E</tspan> <tspan font-size="15.5" dy="0.4">[</tspan><tspan dx="0.8" dy="-0.4">GHz</tspan><tspan font-size="15.5" dx="-0.8" dy="0.4">]</tspan></text>
</svg></body></html>
